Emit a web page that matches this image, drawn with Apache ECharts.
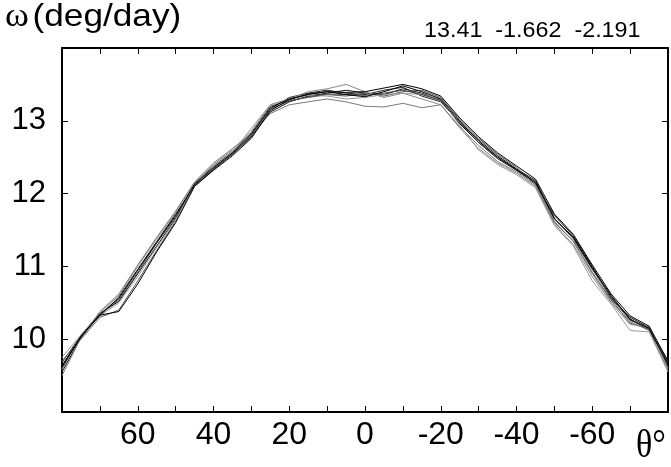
<!DOCTYPE html>
<html>
<head>
<meta charset="utf-8">
<script src="https://cdn.jsdelivr.net/npm/echarts@6/dist/echarts.min.js"></script>
<style>
html,body{margin:0;padding:0;background:#fff;}
#chart{width:671px;height:467px;}
</style>
</head>
<body>
<div id="chart"></div>
<script>
// latitudes (deg), north at left
const latitudes = [80,75,70,65,60,55,50,45,40,35,30,25,20,15,10,5,0,-5,-10,-15,-20,-25,-30,-35,-40,-45,-50,-55,-60,-65,-70,-75,-80];

// rotation rate (deg/day) for each profile
const s1 = [9.62,10.04,10.34,10.56,10.95,11.33,11.70,12.13,12.36,12.56,12.82,13.18,13.30,13.36,13.40,13.36,13.33,13.40,13.48,13.40,13.30,13.00,12.72,12.50,12.33,12.16,11.65,11.40,10.98,10.60,10.27,10.15,9.65];
const s2 = [9.55,10.02,10.35,10.52,10.90,11.28,11.66,12.12,12.34,12.54,12.78,13.12,13.26,13.34,13.38,13.42,13.38,13.36,13.44,13.38,13.28,12.96,12.70,12.48,12.32,12.14,11.70,11.42,11.00,10.56,10.30,10.16,9.62];
const s3 = [9.68,10.05,10.32,10.58,10.96,11.34,11.72,12.10,12.33,12.55,12.80,13.16,13.32,13.38,13.42,13.38,13.36,13.42,13.46,13.34,13.26,12.98,12.74,12.52,12.34,12.18,11.66,11.38,10.96,10.58,10.28,10.12,9.68];
const s4 = [9.70,10.00,10.30,10.40,10.80,11.22,11.62,12.14,12.38,12.58,12.84,13.20,13.28,13.32,13.36,13.34,13.38,13.34,13.40,13.42,13.32,13.02,12.76,12.54,12.36,12.12,11.60,11.35,10.92,10.54,10.22,10.14,9.70];
const s5 = [9.58,10.06,10.36,10.60,11.00,11.38,11.74,12.15,12.40,12.60,12.86,13.22,13.30,13.40,13.44,13.50,13.40,13.32,13.38,13.30,13.22,12.90,12.62,12.42,12.28,12.10,11.58,11.30,10.86,10.50,10.20,10.18,9.60];
const s6 = [9.50,10.02,10.38,10.62,11.02,11.40,11.76,12.16,12.42,12.62,12.82,13.10,13.22,13.26,13.30,13.26,13.20,13.19,13.24,13.18,13.22,12.92,12.66,12.44,12.30,12.12,11.62,11.34,10.90,10.52,10.24,10.12,9.58];
const s7 = [9.64,10.03,10.33,10.38,10.76,11.20,11.60,12.10,12.32,12.52,12.76,13.14,13.29,13.37,13.40,13.39,13.40,13.45,13.50,13.44,13.34,13.04,12.78,12.56,12.38,12.20,11.72,11.44,11.02,10.62,10.32,10.18,9.70];
const s8 = [9.75,10.06,10.32,10.50,10.86,11.26,11.64,12.11,12.35,12.56,12.90,13.22,13.30,13.35,13.34,13.30,13.32,13.36,13.38,13.36,13.30,12.94,12.60,12.40,12.26,12.08,11.56,11.28,10.80,10.48,10.12,10.10,9.55];
const s9 = [9.60,10.04,10.34,10.54,10.92,11.32,11.68,12.12,12.35,12.54,12.80,13.16,13.27,13.33,13.37,13.36,13.35,13.38,13.42,13.36,13.28,12.98,12.70,12.50,12.32,12.15,11.66,11.40,10.98,10.56,10.26,10.15,9.66];

const profiles = [s1,s2,s3,s4,s5,s6,s7,s8,s9];
const colors = ['#000','#111','#222','#555','#8a8a8a','#7a7a7a','#000','#999','#444'];

const xTickLabels = [60,40,20,0,-20,-40,-60];
const yTickLabels = [10,11,12,13];
const fitText = '13.41  -1.662  -2.191';

const chart = echarts.init(document.getElementById('chart'), null, {renderer:'canvas'});

const axisLine = {show:true, onZero:false, lineStyle:{color:'#000', width:2}};
const tick = {show:true, inside:true, length:6, lineStyle:{color:'#000', width:1}};

const series = profiles.map((p,i)=>({
  type:'line',
  data: latitudes.map((t,k)=>[t,p[k]]),
  showSymbol:false,
  symbol:'none',
  lineStyle:{color:colors[i], width:1},
  silent:true,
  z: colors[i] === '#000' ? 3 : 2
}));

chart.setOption({
  animation:false,
  backgroundColor:'#fff',
  grid:{left:62, right:1, top:48, bottom:55, containLabel:false},
  xAxis:[{
    type:'value', min:-80, max:80, interval:10, inverse:true, position:'bottom',
    axisLine, axisTick:tick, splitLine:{show:false},
    axisLabel:{
      margin:7, color:'#000', fontSize:32, fontFamily:'Liberation Sans, Arial, sans-serif',
      formatter:v=> xTickLabels.includes(v) ? String(v) : ''
    }
  },{
    type:'value', min:-80, max:80, interval:10, inverse:true, position:'top',
    axisLine, axisTick:tick, splitLine:{show:false}, axisLabel:{show:false}
  }],
  yAxis:[{
    type:'value', min:9, max:14, interval:1, position:'left',
    axisLine, axisTick:tick, splitLine:{show:false},
    axisLabel:{
      margin:16, color:'#000', fontSize:31, fontFamily:'Liberation Sans, Arial, sans-serif',
      formatter:v=> yTickLabels.includes(v) ? String(v) : ''
    }
  },{
    type:'value', min:9, max:14, interval:1, position:'right',
    axisLine, axisTick:tick, splitLine:{show:false}, axisLabel:{show:false}
  }],
  graphic:[
    {
      type:'text', x:5, y:1, scaleX:1.1,
      style:{
        text:'{w|ω} {s|(deg/day)}',
        verticalAlign:'top',
        fill:'#000',
        rich:{
          w:{fontFamily:'Liberation Serif, serif', fontSize:33, fill:'#000'},
          s:{fontFamily:'Liberation Sans, Arial, sans-serif', fontSize:32, fill:'#000'}
        }
      }
    },
    {
      type:'text', x:424, y:20, scaleX:1.06,
      style:{text:fitText, fontFamily:'Liberation Sans, Arial, sans-serif', fontSize:22, fill:'#000', verticalAlign:'top'}
    },
    {
      type:'text', x:636, y:426, scaleY:1.2,
      style:{text:'θ°', fontFamily:'Liberation Serif, serif', fontSize:34, fill:'#000', verticalAlign:'top'}
    }
  ],
  series
});
</script>
</body>
</html>
